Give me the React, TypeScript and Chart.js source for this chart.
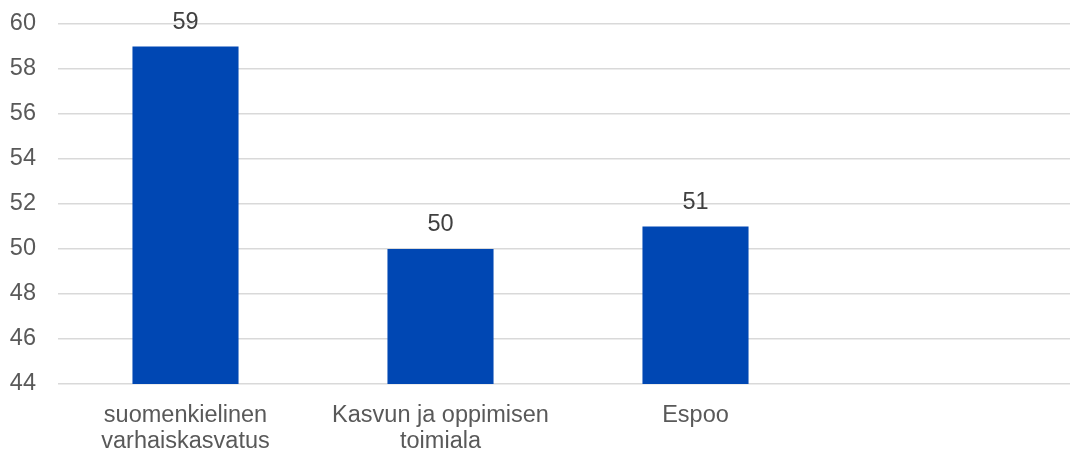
import React, { useEffect, useRef } from "react";
import { Chart, registerables } from "chart.js";

Chart.register(...registerables);

const categories: (string | string[])[] = [
  ["suomenkielinen", "varhaiskasvatus"],
  ["Kasvun ja oppimisen", "toimiala"],
  "Espoo",
  "",
];
const values: (number | null)[] = [59, 50, 51, null];
const yMin = 44;
const yMax = 60;
const yStep = 2;

const FONT = "'Liberation Sans', Arial, sans-serif";
const FS = 23.5;

const dataLabelPlugin = {
  id: "dataLabels",
  afterDatasetsDraw(chart: any) {
    const ctx = chart.ctx;
    const meta = chart.getDatasetMeta(0);
    ctx.save();
    ctx.font = `${FS}px ${FONT}`;
    ctx.fillStyle = "#404040";
    ctx.textAlign = "center";
    ctx.textBaseline = "middle";
    meta.data.forEach((bar: any, i: number) => {
      const v = values[i];
      if (v == null) return;
      ctx.fillText(String(v), bar.x, bar.y - 24);
    });
    ctx.restore();
  },
};

export default function App() {
  const ref = useRef<HTMLCanvasElement>(null);
  useEffect(() => {
    document.body.style.margin = "0";
    document.body.style.overflow = "hidden";
    const chart = new Chart(ref.current!, {
      type: "bar",
      data: {
        labels: categories,
        datasets: [
          {
            data: values,
            backgroundColor: "#0047B3",
            categoryPercentage: 1,
            barPercentage: 0.416,
          },
        ],
      },
      options: {
        responsive: false,
        animation: false,
        devicePixelRatio: 1,
        layout: { padding: { top: 24, right: 0, left: 0, bottom: 0 } },
        plugins: { legend: { display: false }, tooltip: { enabled: false } },
        scales: {
          x: {
            grid: { display: false },
            border: { display: false },
            ticks: {
              color: "#595959",
              font: { family: FONT, size: FS, lineHeight: 1.1 },
              padding: 11,
              maxRotation: 0,
              autoSkip: false,
            },
            afterFit: (s: any) => {
              s.height = 66;
              s.paddingLeft = 0;
              s.paddingRight = 0;
            },
          },
          y: {
            min: yMin,
            max: yMax,
            grid: { color: "#d9d9d9", lineWidth: 1.5, drawTicks: false },
            border: { display: false },
            ticks: {
              stepSize: yStep,
              color: "#595959",
              font: { family: FONT, size: FS },
              padding: 22,
            },
            afterFit: (s: any) => {
              s.width = 58;
              s.paddingTop = 0;
              s.paddingBottom = 0;
            },
          },
        },
      },
      plugins: [dataLabelPlugin],
    });
    return () => chart.destroy();
  }, []);
  return (
    <div style={{ position: "fixed", left: 0, top: 0, width: 1070, height: 450, overflow: "hidden", background: "#fff" }}>
      <canvas ref={ref} width={1078} height={450} style={{ width: 1078, height: 450, display: "block" }} />
    </div>
  );
}
